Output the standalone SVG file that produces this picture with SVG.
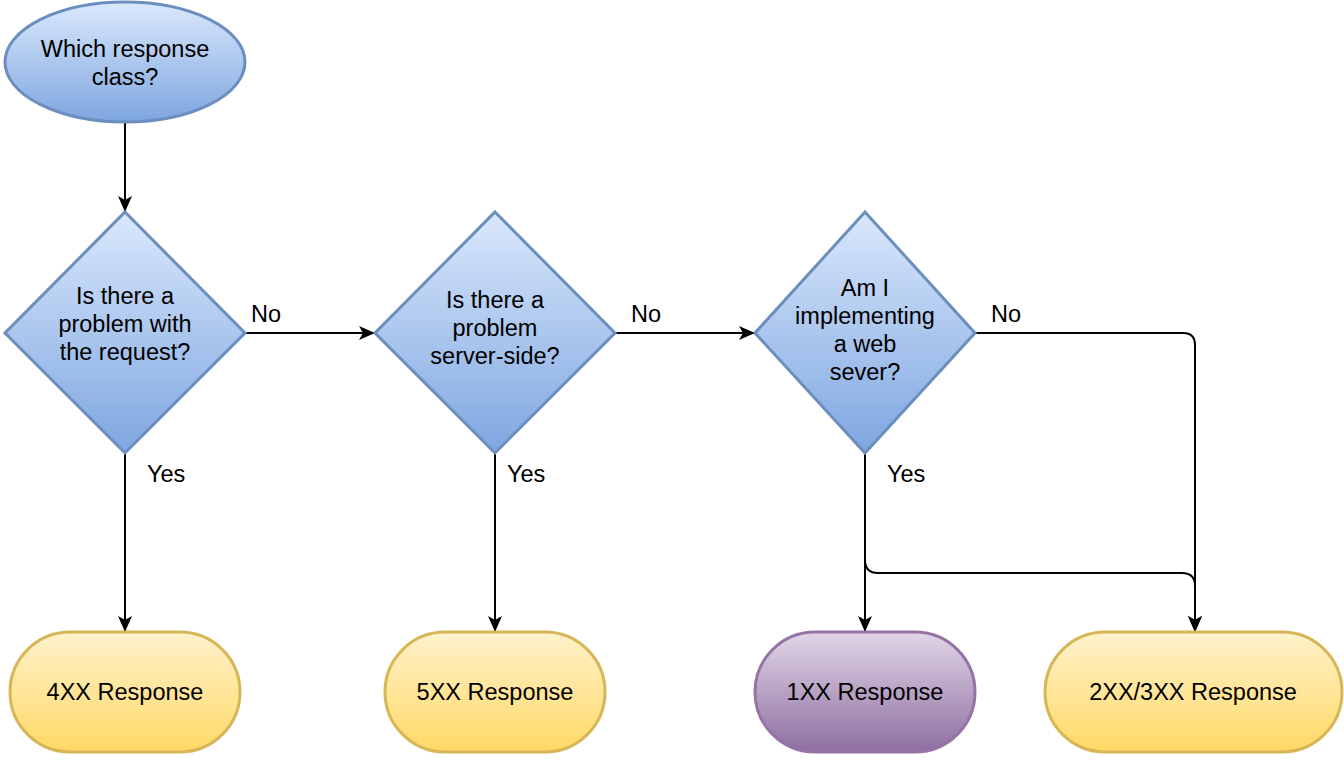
<svg xmlns="http://www.w3.org/2000/svg" width="1344" height="776" viewBox="0 0 1344 776">
<defs>
<linearGradient id="gBlue" x1="0" y1="0" x2="0" y2="1"><stop offset="0" stop-color="#dae8fc"/><stop offset="1" stop-color="#7ea6e0"/></linearGradient>
<linearGradient id="gYellow" x1="0" y1="0" x2="0" y2="1"><stop offset="0" stop-color="#fff2cc"/><stop offset="1" stop-color="#ffd966"/></linearGradient>
<linearGradient id="gPurple" x1="0" y1="0" x2="0" y2="1"><stop offset="0" stop-color="#e1d5e7"/><stop offset="1" stop-color="#8e6fa0"/></linearGradient>
<marker id="arr" markerWidth="16" markerHeight="16" viewBox="0 0 16 16" refX="15" refY="8" orient="auto" markerUnits="userSpaceOnUse">
<path d="M0,1 L16,8 L0,15 L4,8 Z" fill="#000"/>
</marker>
</defs>
<style>
text{font-family:"Liberation Sans",Arial,Helvetica,sans-serif;font-size:23.5px;fill:#000;text-anchor:middle}
.lbl{text-anchor:start}
.blue{fill:url(#gBlue);stroke:#6c8ebf;stroke-width:3}
.yellow{fill:url(#gYellow);stroke:#d6b656;stroke-width:3}
.purple{fill:url(#gPurple);stroke:#9673a6;stroke-width:3}
.edge{fill:none;stroke:#000;stroke-width:2;marker-end:url(#arr)}
</style>
<rect width="1344" height="776" fill="#fff"/>
<g id="connectors">
<path class="edge" d="M125,123 L125,211"/>
<path class="edge" d="M245,333 L374,333"/>
<path class="edge" d="M615,333 L754,333"/>
<path class="edge" d="M975,333 L1183,333 Q1195,333 1195,345 L1195,631"/>
<path class="edge" d="M125,453 L125,631"/>
<path class="edge" d="M495,453 L495,631"/>
<path class="edge" d="M865,453 L865,631"/>
<path class="edge" d="M865,453 L865,560 Q865,573 878,573 L1182,573 Q1195,573 1195,586 L1195,631"/>
<text class="lbl" x="251" y="322">No</text>
<text class="lbl" x="631" y="322">No</text>
<text class="lbl" x="991" y="322">No</text>
<text class="lbl" x="147" y="482">Yes</text>
<text class="lbl" x="507" y="482">Yes</text>
<text class="lbl" x="887" y="482">Yes</text>
</g>
<g id="start">
<ellipse class="blue" cx="125" cy="62" rx="120" ry="60"/>
<text x="125" y="57">Which response</text>
<text x="125" y="85">class?</text>
</g>
<g id="d1">
<polygon class="blue" points="125,212 245,333 125,453 5,333"/>
<text x="125" y="304">Is there a</text>
<text x="125" y="332">problem with</text>
<text x="125" y="360">the request?</text>
</g>
<g id="d2">
<polygon class="blue" points="495,212 615,333 495,453 375,333"/>
<text x="495" y="308">Is there a</text>
<text x="495" y="336">problem</text>
<text x="495" y="364">server-side?</text>
</g>
<g id="d3">
<polygon class="blue" points="865,212 975,333 865,453 755,333"/>
<text x="865" y="296">Am I</text>
<text x="865" y="324">implementing</text>
<text x="865" y="352">a web</text>
<text x="865" y="380">sever?</text>
</g>
<g id="r4xx">
<rect class="yellow" x="10" y="632" width="230" height="120" rx="60" ry="60"/>
<text x="125" y="700">4XX Response</text>
</g>
<g id="r5xx">
<rect class="yellow" x="385" y="632" width="220" height="120" rx="60" ry="60"/>
<text x="495" y="700">5XX Response</text>
</g>
<g id="r1xx">
<rect class="purple" x="755" y="632" width="220" height="120" rx="60" ry="60"/>
<text x="865" y="700">1XX Response</text>
</g>
<g id="r23xx">
<rect class="yellow" x="1045" y="632" width="297" height="120" rx="60" ry="60"/>
<text x="1193" y="700">2XX/3XX Response</text>
</g>
</svg>
